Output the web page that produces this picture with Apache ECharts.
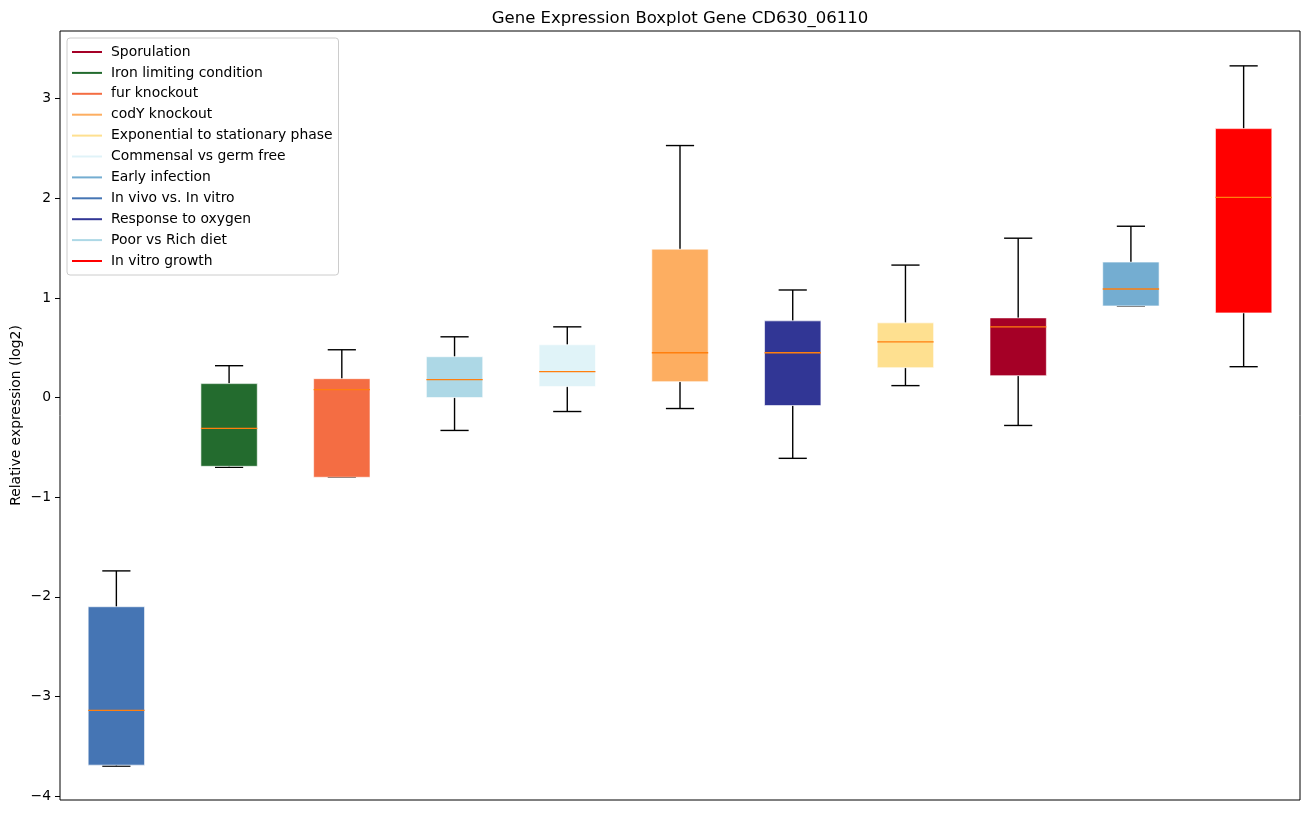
<!DOCTYPE html>
<html>
<head>
<meta charset="utf-8">
<script src="https://cdn.jsdelivr.net/npm/echarts@6/dist/echarts.min.js"></script>
<style>html,body{margin:0;padding:0;background:#fff;}#chart{width:1309px;height:814px;}</style>
</head>
<body>
<div id="chart"></div>
<script>
// Boxes in x order
const categories = ['In vivo vs. In vitro','Iron limiting condition','fur knockout','Poor vs Rich diet','Commensal vs germ free','codY knockout','Response to oxygen','Exponential to stationary phase','Sporulation','Early infection','In vitro growth'];
const boxColors = ['#4575b4','#236b2e','#f46d43','#add8e6','#e0f3f8','#fdae61','#313695','#fee090','#a50026','#74add1','#ff0000'];
const whiskerLow  = [-3.70,-0.70,-0.80,-0.33,-0.14,-0.11,-0.61,0.12,-0.28,0.92,0.31];
const q1Values    = [-3.69,-0.69,-0.80, 0.00, 0.11, 0.16,-0.08,0.30, 0.22,0.92,0.85];
const medians     = [-3.14,-0.31, 0.08, 0.18, 0.26, 0.45, 0.45,0.56, 0.71,1.09,2.01];
const q3Values    = [-2.10, 0.14, 0.19, 0.41, 0.53, 1.49, 0.77,0.75, 0.80,1.36,2.70];
const whiskerHigh = [-1.74, 0.32, 0.48, 0.61, 0.71, 2.53, 1.08,1.33, 1.60,1.72,3.33];
const legendOrder = ['Sporulation','Iron limiting condition','fur knockout','codY knockout','Exponential to stationary phase','Commensal vs germ free','Early infection','In vivo vs. In vitro','Response to oxygen','Poor vs Rich diet','In vitro growth'];
const yTicks = [-4,-3,-2,-1,0,1,2,3];

const chart = echarts.init(document.getElementById('chart'));
const FONT = 'DejaVu Sans';

function renderBox(params, api) {
  const x = api.value(0);
  const lo = api.coord([x, api.value(1)]);
  const q1 = api.coord([x, api.value(2)]);
  const md = api.coord([x, api.value(3)]);
  const q3 = api.coord([x, api.value(4)]);
  const hi = api.coord([x, api.value(5)]);
  const bw = api.size([0.5, 0])[0];
  const cw = api.size([0.25, 0])[0];
  const cx = lo[0];
  const color = api.visual('color');
  const ls = {stroke: '#000', lineWidth: 1.4};
  return {
    type: 'group',
    children: [
      {type: 'line', shape: {x1: cx, y1: q1[1], x2: cx, y2: lo[1]}, style: ls},
      {type: 'line', shape: {x1: cx, y1: q3[1], x2: cx, y2: hi[1]}, style: ls},
      {type: 'line', shape: {x1: cx - cw/2, y1: lo[1], x2: cx + cw/2, y2: lo[1]}, style: ls},
      {type: 'line', shape: {x1: cx - cw/2, y1: hi[1], x2: cx + cw/2, y2: hi[1]}, style: ls},
      {type: 'rect', shape: {x: cx - bw/2, y: q3[1], width: bw, height: q1[1] - q3[1]}, style: {fill: color, stroke: 'rgba(255,255,255,0.6)', lineWidth: 1}},
      {type: 'line', shape: {x1: cx - bw/2, y1: md[1], x2: cx + bw/2, y2: md[1]}, style: {stroke: '#ff7f0e', lineWidth: 1.3}}
    ]
  };
}

const series = categories.map((name, i) => ({
  name: name,
  type: 'custom',
  renderItem: renderBox,
  itemStyle: {color: boxColors[i]},
  encode: {x: 0, y: [1, 2, 3, 4, 5]},
  data: [[i + 1, whiskerLow[i], q1Values[i], medians[i], q3Values[i], whiskerHigh[i]]],
  animation: false
}));

chart.setOption({
  animation: false,
  backgroundColor: '#fff',
  title: {
    text: 'Gene Expression Boxplot Gene CD630_06110',
    left: 675, top: 5, textAlign: 'center',
    textStyle: {fontFamily: FONT, fontSize: 16.5, fontWeight: 'normal', color: '#000'}
  },
  grid: {left: 60, right: 9, top: 31, bottom: 14, show: true, borderColor: '#000', borderWidth: 1, backgroundColor: '#fff', containLabel: false, outerBoundsMode: 'none'},
  legend: {
    data: legendOrder,
    orient: 'vertical',
    left: 67, top: 38,
    padding: [6, 6, 6, 5],
    itemGap: 4.9,
    itemWidth: 30, itemHeight: 2,
    icon: 'rect',
    backgroundColor: '#fff',
    borderColor: '#cccccc', borderWidth: 1, borderRadius: 3,
    textStyle: {fontFamily: FONT, fontSize: 13.9, color: '#000', lineHeight: 16, padding: [0, 0, 0, 4]}
  },
  xAxis: {
    type: 'value', min: 0.5, max: 11.5,
    axisLine: {show: false}, axisTick: {show: false}, axisLabel: {show: false}, splitLine: {show: false}
  },
  yAxis: {
    type: 'value', min: -4.04, max: 3.68, splitNumber: 8,
    name: 'Relative expression (log2)', nameLocation: 'middle', nameGap: 37, nameRotate: 90,
    nameMoveOverlap: false,
    nameTextStyle: {fontFamily: FONT, fontSize: 13.9, color: '#000'},
    axisLine: {show: false},
    axisTick: {show: true, length: 5, lineStyle: {color: '#000'}, customValues: yTicks},
    axisLabel: {
      fontFamily: FONT, fontSize: 13.9, color: '#000', margin: 9,
      customValues: yTicks,
      formatter: v => String(v).replace('-', '\u2212')
    },
    splitLine: {show: false}
  },
  series: series
});
</script>
</body>
</html>
